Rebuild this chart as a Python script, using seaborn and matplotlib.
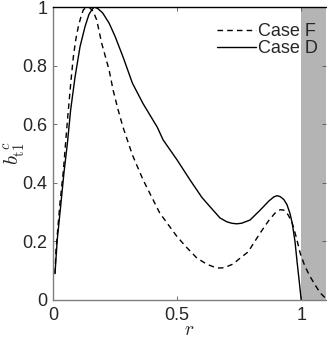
import numpy as np
import pandas as pd
import matplotlib
matplotlib.use('Agg')
import matplotlib.pyplot as plt
import seaborn as sns

# values
r_d = [0.008, 0.017, 0.032, 0.044, 0.058, 0.071, 0.089, 0.109, 0.129, 0.145, 0.156, 0.166,
       0.18, 0.20, 0.226, 0.25, 0.282, 0.32, 0.363, 0.42, 0.444, 0.50, 0.552, 0.60, 0.633,
       0.673, 0.70, 0.72, 0.74, 0.76, 0.794, 0.835, 0.87, 0.89, 0.903, 0.915, 0.93, 0.943,
       0.955, 0.964, 0.975, 0.984, 0.992, 1.0]
b_d = [0.09, 0.205, 0.33, 0.433, 0.535, 0.648, 0.762, 0.865, 0.933, 0.975, 0.99, 1.0,
       0.995, 0.98, 0.945, 0.9, 0.83, 0.74, 0.67, 0.59, 0.546, 0.478, 0.41, 0.35, 0.318,
       0.28, 0.267, 0.262, 0.26, 0.262, 0.273, 0.307, 0.338, 0.352, 0.356, 0.353, 0.343, 0.325,
       0.295, 0.262, 0.2, 0.126, 0.065, 0.0]

r_f = [0.008, 0.012, 0.028, 0.042, 0.053, 0.062, 0.072, 0.082, 0.092, 0.102, 0.112, 0.122,
       0.133, 0.145, 0.162, 0.176, 0.196, 0.226, 0.242, 0.262, 0.282, 0.32, 0.363, 0.43, 0.50,
       0.54, 0.58, 0.62, 0.66, 0.69, 0.726, 0.754, 0.786, 0.835, 0.87, 0.895, 0.915, 0.93,
       0.948, 0.964, 0.98, 0.996, 1.015, 1.036, 1.057, 1.077, 1.097]
b_f = [0.09, 0.17, 0.33, 0.443, 0.56, 0.65, 0.745, 0.83, 0.89, 0.933, 0.965, 0.99,
       0.998, 1.0, 0.985, 0.956, 0.877, 0.785, 0.717, 0.65, 0.59, 0.495, 0.41, 0.297, 0.216,
       0.178, 0.143, 0.122, 0.109, 0.110, 0.123, 0.143, 0.164, 0.229, 0.272, 0.297, 0.308, 0.307,
       0.29, 0.262, 0.215, 0.16, 0.115, 0.08, 0.05, 0.024, 0.007]

df = pd.concat([
    pd.DataFrame({'r': r_f, 'b': b_f, 'case': 'Case F'}),
    pd.DataFrame({'r': r_d, 'b': b_d, 'case': 'Case D'}),
])

sns.set_style('ticks')
plt.rcParams['font.family'] = ['Liberation Sans', 'DejaVu Sans']
plt.rcParams['mathtext.fontset'] = 'cm'

fig = plt.figure(figsize=(3.27, 3.39), dpi=100)
ax = fig.add_axes([53 / 327, 39 / 339, 273 / 327, 293 / 339])

ax.axvspan(1.0, 1.1, color='#b4b4b4', lw=0, zorder=0)

sns.lineplot(data=df, x='r', y='b', hue='case', style='case',
             palette={'Case F': 'black', 'Case D': 'black'},
             dashes={'Case F': (4, 3), 'Case D': ''},
             sort=False, estimator=None, lw=1.0, ax=ax)

ax.set_xlim(0, 1.1)
ax.set_ylim(0, 1)
ax.set_xticks([0, 0.5, 1])
ax.set_xticklabels(['0', '0.5', '1'])
ax.set_yticks([0, 0.2, 0.4, 0.6, 0.8, 1])
ax.set_yticklabels(['0', '0.2', '0.4', '0.6', '0.8', '1'])
ax.tick_params(direction='in', length=3, width=0.6, labelsize=13, top=True, right=True,
               color='#555555')
ax.tick_params(axis='x', pad=5)
ax.tick_params(axis='y', pad=4)
ax.set_xlabel(r'$r$', fontsize=14)
ax.set_ylabel(r'$b_{\mathrm{t}1}^{\ c}$', fontsize=15)
ax.xaxis.set_label_coords(0.5, -0.075)
ax.yaxis.set_label_coords(-0.095, 0.5)

for s in ['left', 'bottom']:
    ax.spines[s].set_color('#7f7f7f')
    ax.spines[s].set_linewidth(1.0)
ax.spines['top'].set_color('black')
ax.spines['top'].set_linewidth(1.0)
ax.spines['right'].set_visible(False)

leg = ax.legend(loc='upper right', frameon=False, fontsize=13, handlelength=2.15,
                handletextpad=0.15, borderaxespad=0, borderpad=0, labelspacing=0,
                bbox_to_anchor=(0.972, 0.945))

fig.savefig('out.png', dpi=100)
